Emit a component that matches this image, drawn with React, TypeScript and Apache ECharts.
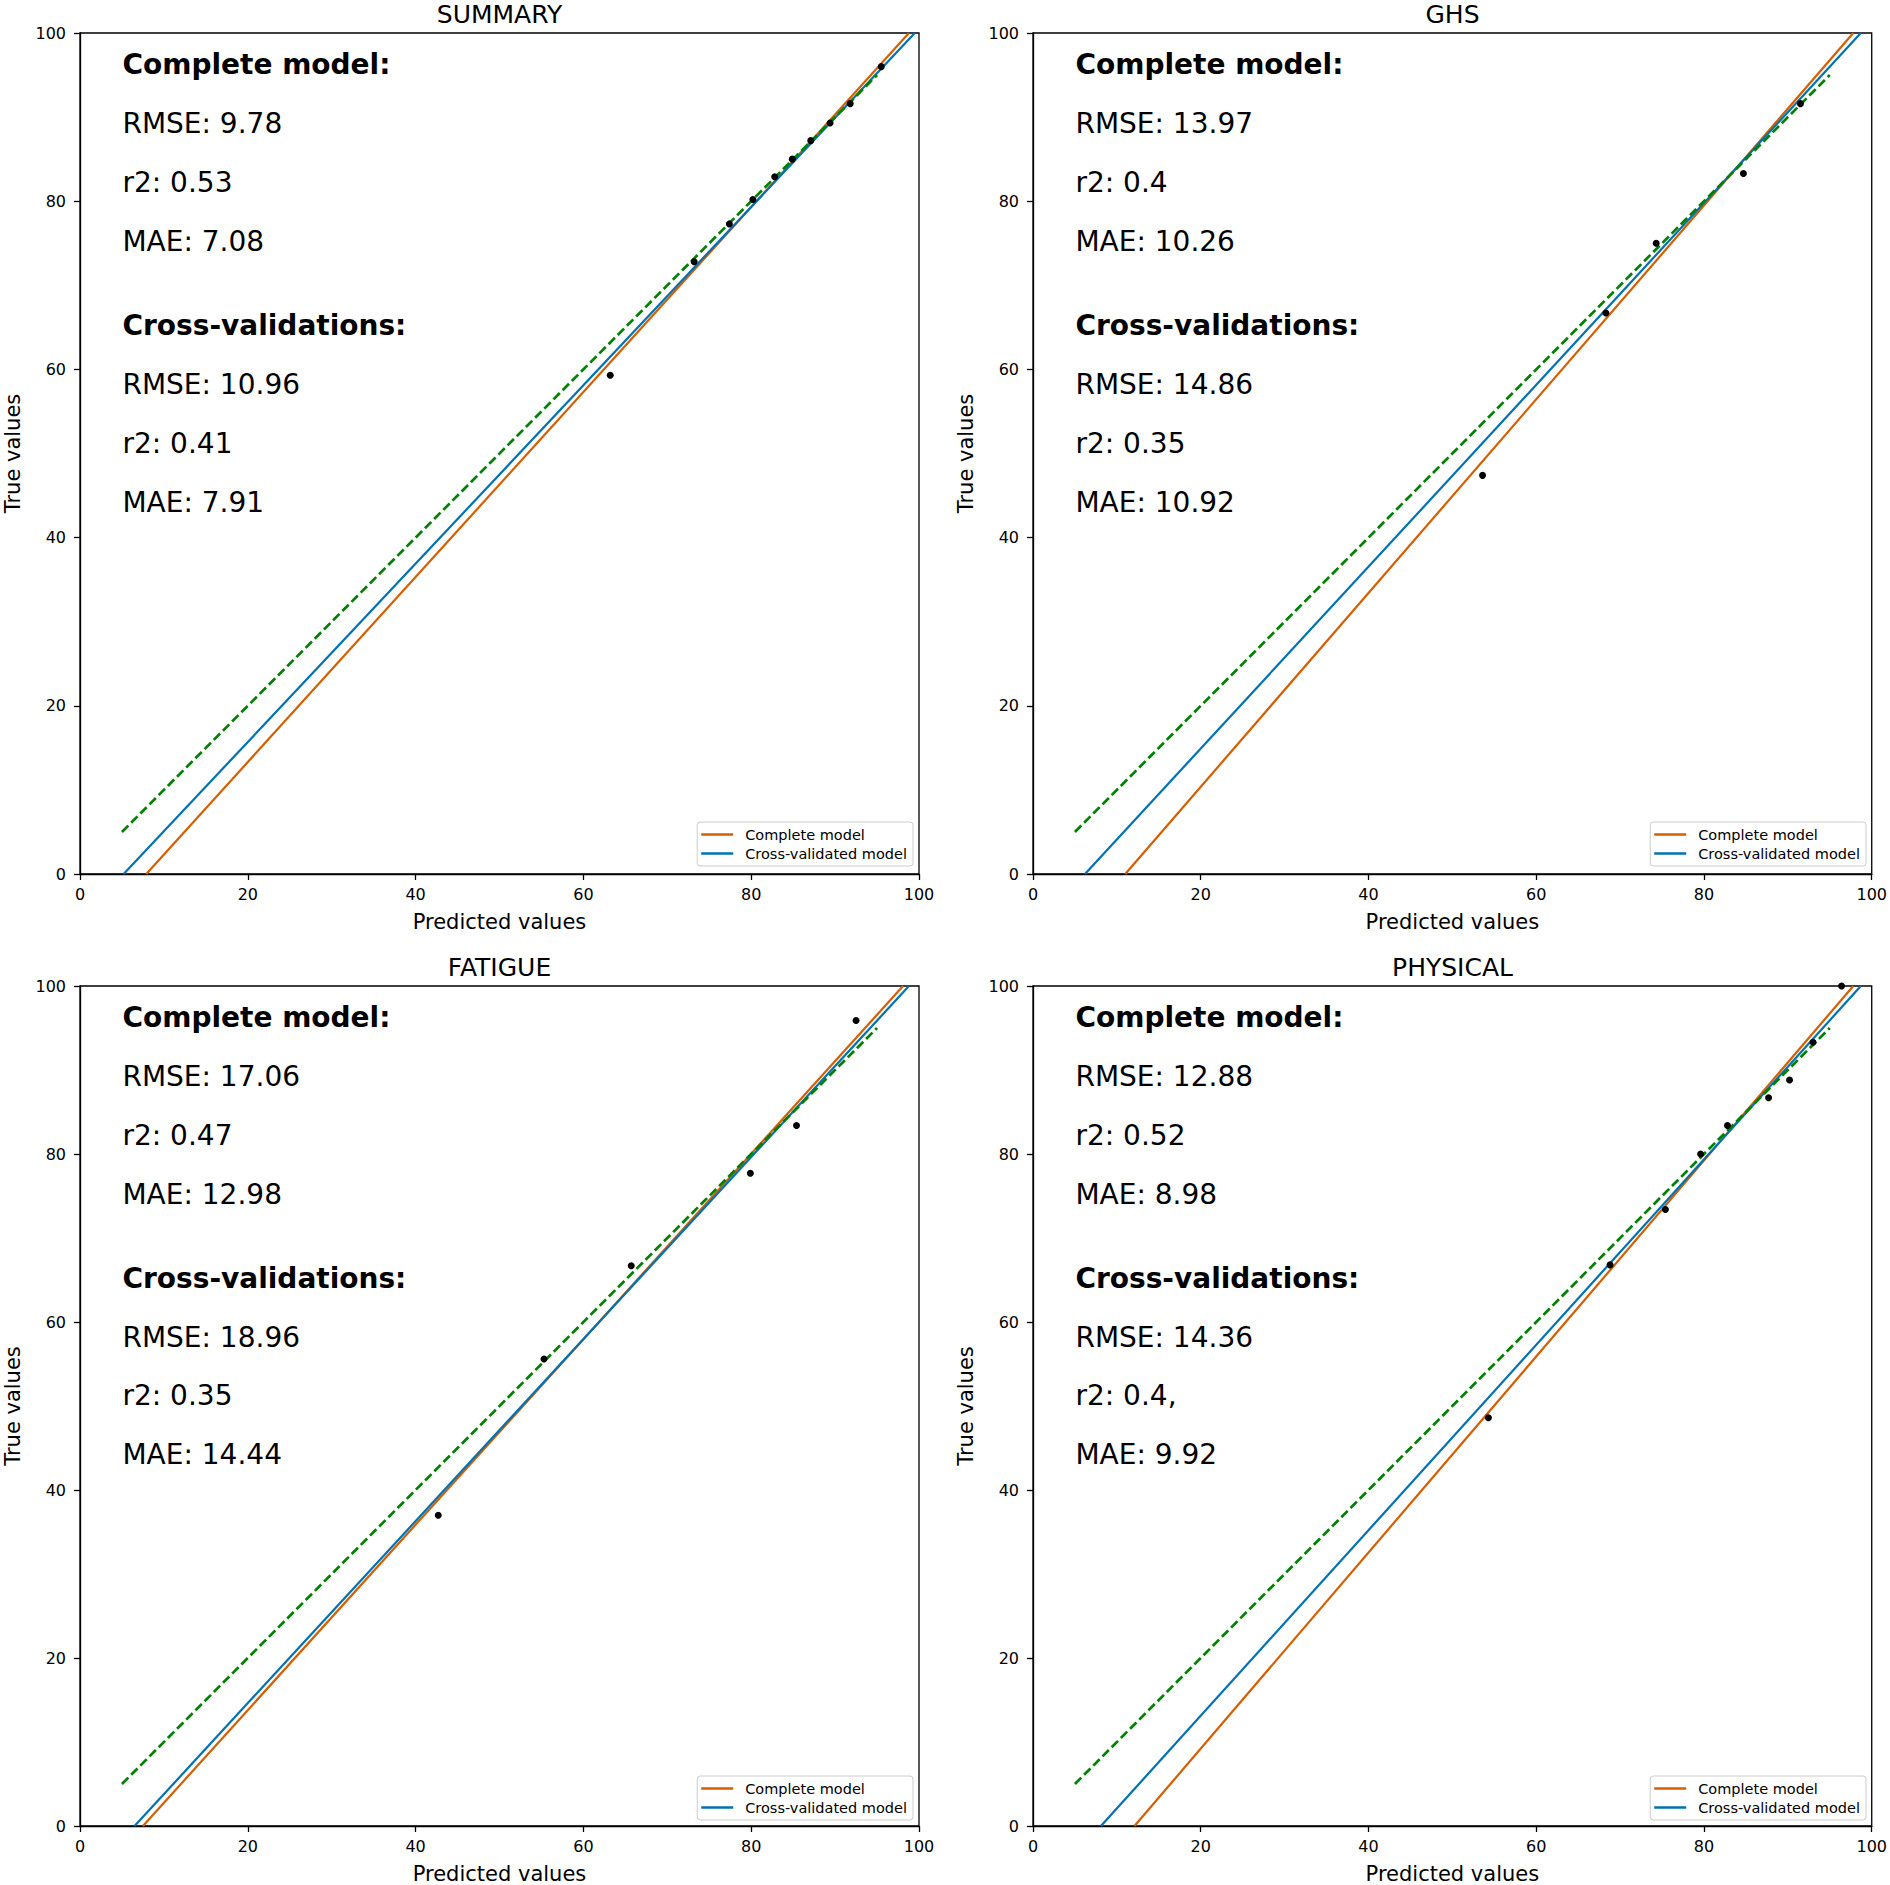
import { useEffect, useRef } from 'react';
import * as echarts from 'echarts';

// panel titles, in reading order
const panelTitles = ['SUMMARY', 'GHS', 'FATIGUE', 'PHYSICAL'];

// scatter points (predicted, true) per panel
const summaryPred = [63.2, 73.2, 77.4, 80.2, 82.8, 84.9, 87.1, 89.4, 91.8, 95.5];
const summaryTrue = [59.3, 72.8, 77.3, 80.2, 82.9, 85.0, 87.2, 89.3, 91.6, 96.0];
const ghsPred = [53.6, 68.3, 74.3, 84.7, 91.5];
const ghsTrue = [47.4, 66.7, 75.0, 83.3, 91.6];
const fatiguePred = [42.7, 55.3, 65.7, 79.9, 85.4, 92.5];
const fatigueTrue = [37.0, 55.6, 66.7, 77.7, 83.4, 95.9];
const physicalPred = [54.3, 68.8, 75.4, 79.6, 82.8, 87.7, 90.2, 93.0, 96.4];
const physicalTrue = [48.6, 66.8, 73.4, 80.0, 83.4, 86.7, 88.8, 93.3, 100.0];

// fitted lines, given by where they cross y=0 and y=100
const completeFit = [
  [[7.9, 0], [98.8, 100]],
  [[11.0, 0], [97.8, 100]],
  [[7.5, 0], [98.1, 100]],
  [[12.1, 0], [97.8, 100]],
];
const crossFit = [
  [[5.2, 0], [99.5, 100]],
  [[6.2, 0], [98.7, 100]],
  [[6.5, 0], [98.8, 100]],
  [[8.1, 0], [98.7, 100]],
];
const identity = [[5, 5], [95, 95]];

// metrics printed in each panel
const completeRmse = ['9.78', '13.97', '17.06', '12.88'];
const completeR2 = ['0.53', '0.4', '0.47', '0.52'];
const completeMae = ['7.08', '10.26', '12.98', '8.98'];
const cvRmse = ['10.96', '14.86', '18.96', '14.36'];
const cvR2 = ['0.41', '0.35', '0.35', '0.4,'];
const cvMae = ['7.91', '10.92', '14.44', '9.92'];

const axisTicks = [0, 20, 40, 60, 80, 100];

const FONT = 'DejaVu Sans';
const ORANGE = '#d55e00';
const BLUE = '#0072b2';
const GREEN = '#008000';

const grids = [
  { left: 80, top: 33, width: 839, height: 841 },
  { left: 1033, top: 33, width: 839, height: 841 },
  { left: 80, top: 986, width: 839, height: 842 },
  { left: 1033, top: 986, width: 839, height: 842 },
];

const W = 1890;
const H = 1885;

const points = [
  summaryPred.map((x, i) => [x, summaryTrue[i]]),
  ghsPred.map((x, i) => [x, ghsTrue[i]]),
  fatiguePred.map((x, i) => [x, fatigueTrue[i]]),
  physicalPred.map((x, i) => [x, physicalTrue[i]]),
];

const textRows = [96.2, 89.2, 82.2, 75.2, 65.2, 58.2, 51.2, 44.2];

const App = () => {
  const chartRef = useRef<HTMLDivElement>(null);

  useEffect(() => {
    if (!chartRef.current) return;
    const chart = echarts.init(chartRef.current, null, { renderer: 'svg' });

    const series: any[] = [];
    grids.forEach((_, i) => {
      series.push({
        name: 'Complete model',
        type: 'line',
        xAxisIndex: i,
        yAxisIndex: i,
        data: completeFit[i],
        symbol: 'none',
        color: ORANGE,
        lineStyle: { color: ORANGE, width: 2.2 },
        clip: true,
        z: 3,
      });
      series.push({
        name: 'Cross-validated model',
        type: 'line',
        xAxisIndex: i,
        yAxisIndex: i,
        data: crossFit[i],
        symbol: 'none',
        color: BLUE,
        lineStyle: { color: BLUE, width: 2.2 },
        clip: true,
        z: 3,
      });
      series.push({
        name: 'identity',
        type: 'line',
        xAxisIndex: i,
        yAxisIndex: i,
        data: identity,
        symbol: 'none',
        lineStyle: { color: GREEN, width: 2.7, type: [9, 4] },
        z: 4,
      });
      series.push({
        name: 'points',
        type: 'scatter',
        xAxisIndex: i,
        yAxisIndex: i,
        data: points[i],
        symbolSize: 7,
        itemStyle: { color: '#000', opacity: 1 },
        clip: true,
        z: 5,
      });
      const lines = [
        { t: 'Complete model:', b: true },
        { t: 'RMSE: ' + completeRmse[i], b: false },
        { t: 'r2: ' + completeR2[i], b: false },
        { t: 'MAE: ' + completeMae[i], b: false },
        { t: 'Cross-validations:', b: true },
        { t: 'RMSE: ' + cvRmse[i], b: false },
        { t: 'r2: ' + cvR2[i], b: false },
        { t: 'MAE: ' + cvMae[i], b: false },
      ];
      series.push({
        name: 'notes',
        type: 'scatter',
        xAxisIndex: i,
        yAxisIndex: i,
        silent: true,
        symbolSize: 1,
        itemStyle: { color: '#fff', opacity: 0 },
        data: lines.map((l, k) => ({
          value: [5, textRows[k]],
          name: l.t,
          label: { fontWeight: l.b ? 'bold' : 'normal', color: '#000', opacity: 1 },
        })),
        label: {
          show: true,
          position: 'right',
          distance: 0,
          formatter: (p: any) => p.name,
          fontFamily: FONT,
          fontSize: 28,
          color: '#000',
          opacity: 1,
          textBorderWidth: 0,
        },
        z: 6,
      });
    });

    const option = {
      animation: false,
      backgroundColor: '#fff',
      grid: grids.map((g) => ({
        ...g,
        show: true,
        borderColor: '#000',
        borderWidth: 1.3,
        backgroundColor: '#fff',
        containLabel: false,
      })),
      xAxis: grids.map((_, i) => ({
        type: 'value',
        gridIndex: i,
        min: 0,
        max: 100,
        interval: 20,
        name: 'Predicted values',
        nameLocation: 'middle',
        nameGap: 37,
        nameTextStyle: { fontFamily: FONT, fontSize: 21, color: '#000' },
        axisLine: { show: true, onZero: false, lineStyle: { color: '#000', width: 1.3 } },
        axisTick: { show: true, length: 6, lineStyle: { color: '#000', width: 1.3 } },
        axisLabel: {
          fontFamily: FONT,
          fontSize: 16,
          color: '#000',
          margin: 12,
          formatter: (v: number) => (axisTicks.includes(v) ? String(v) : ''),
        },
        splitLine: { show: false },
      })),
      yAxis: grids.map((_, i) => ({
        type: 'value',
        gridIndex: i,
        min: 0,
        max: 100,
        interval: 20,
        name: 'True values',
        nameLocation: 'middle',
        nameGap: 57,
        nameTextStyle: { fontFamily: FONT, fontSize: 21, color: '#000' },
        axisLine: { show: true, onZero: false, lineStyle: { color: '#000', width: 1.3 } },
        axisTick: { show: true, length: 6, lineStyle: { color: '#000', width: 1.3 } },
        axisLabel: {
          fontFamily: FONT,
          fontSize: 16,
          color: '#000',
          margin: 14,
          formatter: (v: number) => (axisTicks.includes(v) ? String(v) : ''),
        },
        splitLine: { show: false },
      })),
      legend: grids.map((g) => ({
        data: ['Complete model', 'Cross-validated model'],
        orient: 'vertical',
        right: W - (g.left + g.width - 6),
        bottom: H - (g.top + g.height - 8),
        icon: 'rect',
        itemWidth: 32,
        itemHeight: 2.5,
        itemGap: 2,
        padding: [4, 6, 4, 4],
        backgroundColor: 'rgba(255,255,255,0.8)',
        borderColor: '#cccccc',
        borderWidth: 1,
        borderRadius: 3,
        selectedMode: false,
        textStyle: {
          fontFamily: FONT,
          fontSize: 14.5,
          color: '#000',
          lineHeight: 17,
          padding: [0, 0, 0, 7],
        },
      })),
      graphic: grids.map((g, i) => ({
        type: 'text',
        x: g.left + g.width / 2,
        y: g.top - 19,
        silent: true,
        style: {
          text: panelTitles[i],
          fontFamily: FONT,
          fontSize: 25,
          fill: '#000',
          align: 'center',
          verticalAlign: 'middle',
        },
      })),
      series,
    };

    chart.setOption(option);

    const handleResize = () => chart.resize();
    window.addEventListener('resize', handleResize);

    return () => {
      window.removeEventListener('resize', handleResize);
      chart.dispose();
    };
  }, []);

  return (
    <div
      ref={chartRef}
      style={{ position: 'absolute', left: 0, top: 0, width: W, height: H, background: '#fff' }}
    />
  );
};

export default App;
